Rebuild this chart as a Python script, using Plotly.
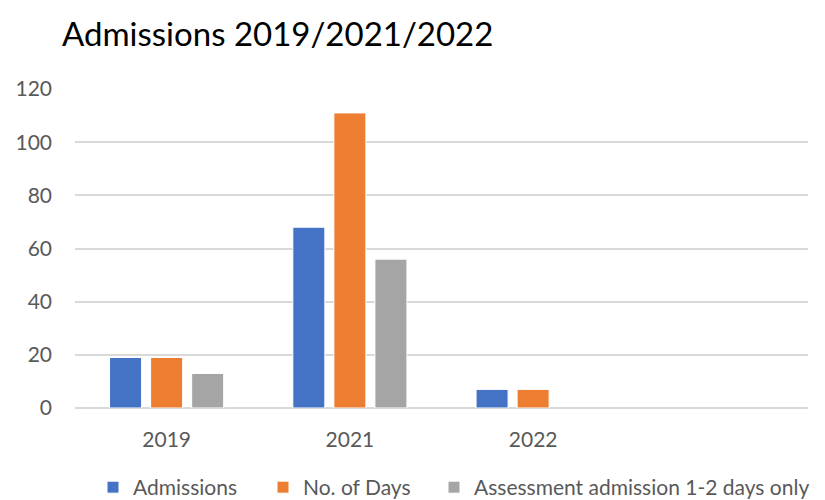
import plotly.graph_objects as go

categories = ["2019", "2021", "2022", " "]
admissions = [19, 68, 7, None]
no_of_days = [19, 111, 7, None]
assessment = [13, 56, None, None]

series_names = ["Admissions", "No. of Days", "Assessment admission 1-2 days only"]
colors = ["#4472C4", "#ED7D31", "#A5A5A5"]
legend_ids = ["legend", "legend2", "legend3"]

W, H = 817, 492  # page has an 8px body margin

fig = go.Figure()
for name, vals, col, lid in zip(series_names, [admissions, no_of_days, assessment], colors, legend_ids):
    fig.add_trace(go.Bar(
        x=categories, y=vals, name=name, legend=lid,
        marker=dict(color=col, line=dict(color="white", width=1)),
    ))

legend_text_x = [133, 303, 474]
legend_common = dict(orientation="h", xref="container", yref="paper",
                     xanchor="left", y=-0.185, yanchor="top",
                     font=dict(size=21, color="#595959"))

layout_legends = {}
for lid, tx in zip(legend_ids, legend_text_x):
    layout_legends[lid] = dict(legend_common, x=(tx - 48) / W)

fig.update_layout(
    width=W, height=H,
    paper_bgcolor="white", plot_bgcolor="white",
    margin=dict(l=67, r=17, t=81, b=92, autoexpand=False),
    barmode="group", bargap=0.328, bargroupgap=0.22,
    title=dict(text="Admissions 2019/2021/2022", x=54/W, xanchor="left",
               y=1 - 26/H, yanchor="middle",
               font=dict(family="Lato", size=33, color="#000000")),
    font=dict(family="Lato", color="#595959", size=20),
    xaxis=dict(showgrid=False, showline=False, ticks="", ticklabelstandoff=17,
               automargin=False, tickfont=dict(size=21, color="#595959")),
    yaxis=dict(range=[0, 120], dtick=20, showgrid=True, gridcolor="#D9D9D9", gridwidth=1.5,
               zeroline=True, zerolinecolor="#D9D9D9", zerolinewidth=1.5,
               showline=False, ticks="", ticklabelstandoff=22, automargin=False,
               tickfont=dict(size=21, color="#595959")),
    showlegend=True,
    **layout_legends,
)

fig.write_html("out.html")
